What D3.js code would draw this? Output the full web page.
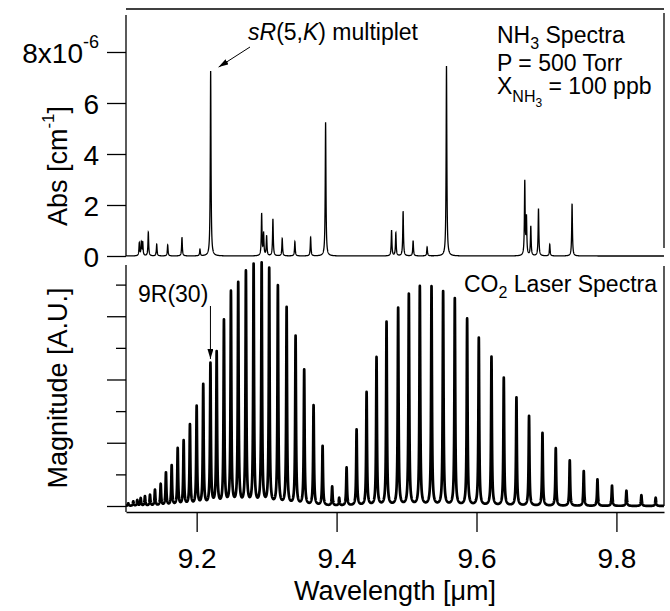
<!DOCTYPE html>
<html>
<head>
<meta charset="utf-8">
<script src="https://cdn.jsdelivr.net/npm/d3@7"></script>
<style>
body { margin: 0; background: #fff; }
svg text { font-family: "Liberation Sans", Arial, sans-serif; fill: #000; }
</style>
</head>
<body>
<svg id="chart" width="670" height="611"></svg>
<script>
// NH3 absorption lines (wavelength in um, absorption in 1e-6 cm^-1)
const nh3Wavelength = [9.1180, 9.1209, 9.1229, 9.1309, 9.1429, 9.1586, 9.1790, 9.2047, 9.2200,
    9.2929, 9.2957, 9.3000, 9.3090, 9.3223, 9.3404, 9.3629, 9.3843,
    9.4786, 9.4847, 9.4951, 9.5094, 9.5294, 9.5571,
    9.6690, 9.6714, 9.6776, 9.6886, 9.7047, 9.7366];
const nh3Abs = [0.50, 0.51, 0.51, 0.93, 0.46, 0.43, 0.73, 0.26, 7.25,
    1.64, 0.85, 0.78, 1.45, 0.68, 0.56, 0.73, 5.24,
    1.00, 0.90, 1.75, 0.60, 0.35, 7.45,
    2.90, 1.45, 1.15, 1.85, 0.45, 2.05];

// CO2 laser lines (wavelength in um, magnitude in arbitrary units)
const co2Wavelength = [9.1023, 9.1094, 9.1151, 9.1200, 9.1261, 9.1333, 9.1404, 9.1486, 9.1561,
    9.1643, 9.1729, 9.1814, 9.1904, 9.2000, 9.2094, 9.2197, 9.2286, 9.2390, 9.2490,
    9.2594, 9.2704, 9.2814, 9.2929, 9.3037, 9.3161, 9.3286, 9.3414, 9.3537, 9.3671,
    9.3800, 9.3937, 9.4037, 9.4143, 9.4286, 9.4429, 9.4571, 9.4714, 9.4880, 9.5033,
    9.5190, 9.5357, 9.5523, 9.5690, 9.5866, 9.6033, 9.6214, 9.6390, 9.6571, 9.6751,
    9.6943, 9.7133, 9.7333, 9.7533, 9.7729, 9.7937, 9.8143, 9.8357, 9.8561];
const co2Magnitude = [0.04, 0.07, 0.09, 0.12, 0.15, 0.17, 0.25, 0.34, 0.52,
    0.63, 0.90, 1.02, 1.27, 1.56, 1.90, 2.23, 2.41, 2.91, 3.36,
    3.50, 3.68, 3.79, 3.81, 3.73, 3.46, 3.12, 2.67, 2.14, 1.58,
    0.94, 0.30, 0.12, 0.60, 1.20, 1.79, 2.34, 2.90, 3.12, 3.34,
    3.46, 3.46, 3.38, 3.27, 2.95, 2.65, 2.35, 2.02, 1.71, 1.42,
    1.15, 0.91, 0.72, 0.55, 0.42, 0.32, 0.24, 0.17, 0.13];

const xTicks = [9.2, 9.4, 9.6, 9.8];
const absTicks = [0, 2, 4, 6, 8];
const magMajorTicks = [0, 1, 2, 3];
const magMinorTicks = [0.5, 1.5, 2.5, 3.5];

const svg = d3.select("#chart");
const font = "Liberation Sans, Arial, sans-serif";

let x = d3.scaleLinear().domain([9.099, 9.868]).range([126, 664]);
let yAbs = d3.scaleLinear().domain([0, 9.686]).range([256, 9]);
let yMag = d3.scaleLinear().domain([0, 3.81]).range([506, 265]);

// sum of narrow line profiles around each listed line
function spectrum(centers, heights, gamma) {
    let grid = d3.range(x.domain()[0], x.domain()[1], 0.00012).concat(centers);
    grid.sort((a, b) => a - b);
    return grid.map(w => ({
        w: w,
        v: d3.sum(centers, (c, i) => heights[i] * gamma * gamma / ((w - c) * (w - c) + gamma * gamma))
    }));
}

// arrow marker
svg.append("defs").append("marker")
    .attr("id", "arrow")
    .attr("viewBox", "0 0 10 6")
    .attr("refX", 10).attr("refY", 3)
    .attr("markerWidth", 10).attr("markerHeight", 6)
    .attr("markerUnits", "userSpaceOnUse")
    .attr("orient", "auto")
    .append("path").attr("d", "M0,0L10,3L0,6Z").attr("fill", "#000");

// ---- top panel: NH3 ----
let topLine = d3.line().x(d => x(d.w)).y(d => yAbs(d.v));
svg.append("path")
    .datum(spectrum(nh3Wavelength, nh3Abs, 0.0006))
    .attr("d", topLine)
    .attr("fill", "none").attr("stroke", "#000").attr("stroke-width", 1.3);

let absAxis = svg.append("g")
    .attr("transform", "translate(126,0)")
    .call(d3.axisLeft(yAbs).tickValues(absTicks).tickSize(19).tickSizeOuter(0).tickFormat(d => d == 8 ? "" : d));
absAxis.select(".domain").remove();
absAxis.selectAll("line").attr("stroke-width", 1.3);
absAxis.selectAll("text").attr("font-size", 28).attr("font-family", font).attr("x", -27).attr("dy", "0.36em");
let top8 = absAxis.select(".tick:last-of-type text");
top8.append("tspan").text("8x10");
top8.append("tspan").text("-6").attr("font-size", 18).attr("dy", "-0.8em");

// frame lines of top panel
svg.append("line").attr("x1", 126).attr("x2", 664).attr("y1", yAbs.range()[1]).attr("y2", yAbs.range()[1])
    .attr("stroke", "#000").attr("stroke-width", 1.5);
svg.append("line").attr("x1", 126).attr("x2", 126).attr("y1", 15).attr("y2", 256)
    .attr("stroke", "#000").attr("stroke-width", 1.3);
svg.append("line").attr("x1", 664).attr("x2", 664).attr("y1", 13).attr("y2", 248)
    .attr("stroke", "#000").attr("stroke-width", 1.3);

// ---- bottom panel: CO2 laser ----
let botLine = d3.line().x(d => x(d.w)).y(d => yMag(d.v));
svg.append("path")
    .datum(spectrum(co2Wavelength, co2Magnitude, 0.0007))
    .attr("d", botLine)
    .attr("fill", "none").attr("stroke", "#000").attr("stroke-width", 2.7)
    .attr("stroke-linejoin", "round");

let magMajor = svg.append("g").attr("transform", "translate(126,0)")
    .call(d3.axisLeft(yMag).tickValues(magMajorTicks).tickSize(19).tickSizeOuter(0).tickFormat(""));
let magMinor = svg.append("g").attr("transform", "translate(126,0)")
    .call(d3.axisLeft(yMag).tickValues(magMinorTicks).tickSize(10).tickSizeOuter(0).tickFormat(""));
magMajor.select(".domain").remove();
magMinor.select(".domain").remove();
svg.selectAll(".tick line").attr("stroke-width", 1.3);

svg.append("line").attr("x1", 126).attr("x2", 126).attr("y1", 265).attr("y2", 512)
    .attr("stroke", "#000").attr("stroke-width", 1.3);
svg.append("line").attr("x1", 664).attr("x2", 664).attr("y1", 266).attr("y2", 506)
    .attr("stroke", "#000").attr("stroke-width", 1.3);

let xAxis = svg.append("g")
    .attr("transform", "translate(0,512)")
    .call(d3.axisBottom(x).tickValues(xTicks).tickSize(20).tickSizeOuter(0).tickFormat(d3.format(".1f")));
xAxis.select(".domain").attr("stroke-width", 1.5);
xAxis.selectAll("line").attr("stroke-width", 1.3);
xAxis.selectAll("text").attr("font-size", 28).attr("font-family", font).attr("y", 56).attr("dy", 0);

// ---- axis titles ----
svg.append("text")
    .attr("x", 395).attr("y", 600)
    .attr("text-anchor", "middle").attr("font-size", 27)
    .text("Wavelength [\u03bcm]");

let absTitle = svg.append("text")
    .attr("transform", "translate(67,166) rotate(-90)")
    .attr("text-anchor", "middle").attr("font-size", 27);
absTitle.append("tspan").text("Abs [cm");
absTitle.append("tspan").text("-1").attr("font-size", 17).attr("dy", "-0.75em");
absTitle.append("tspan").text("]").attr("dy", "0.48em");

svg.append("text")
    .attr("transform", "translate(67,388) rotate(-90)")
    .attr("text-anchor", "middle").attr("font-size", 27)
    .text("Magnitude [A.U.]");

// ---- annotations ----
let sr = svg.append("text").attr("x", 248).attr("y", 40).attr("font-size", 23);
sr.append("tspan").text("sR").attr("font-style", "italic");
sr.append("tspan").text("(5,");
sr.append("tspan").text("K").attr("font-style", "italic");
sr.append("tspan").text(") multiplet");
svg.append("line")
    .attr("x1", 250).attr("y1", 47)
    .attr("x2", x(nh3Wavelength[8]) + 8).attr("y2", yAbs(nh3Abs[8]) - 4)
    .attr("stroke", "#000").attr("stroke-width", 1).attr("marker-end", "url(#arrow)");

let info = svg.append("g").attr("font-size", 23);
let l1 = info.append("text").attr("x", 497).attr("y", 43);
l1.append("tspan").text("NH");
l1.append("tspan").text("3").attr("font-size", 16).attr("dy", 6);
l1.append("tspan").text(" Spectra").attr("dy", -6);
info.append("text").attr("x", 497).attr("y", 71).text("P = 500 Torr");
let l3 = info.append("text").attr("x", 497).attr("y", 94);
l3.append("tspan").text("X");
l3.append("tspan").text("NH").attr("font-size", 16).attr("dy", 8);
l3.append("tspan").text("3").attr("font-size", 12).attr("dy", 5);
l3.append("tspan").text(" = 100 ppb").attr("dy", -13);

let co2 = svg.append("text").attr("x", 657).attr("y", 292).attr("text-anchor", "end").attr("font-size", 23);
co2.append("tspan").text("CO");
co2.append("tspan").text("2").attr("font-size", 16).attr("dy", 6);
co2.append("tspan").text(" Laser Spectra").attr("dy", -6);

svg.append("text").attr("x", 138).attr("y", 302).attr("font-size", 23).text("9R(30)");
svg.append("line")
    .attr("x1", x(co2Wavelength[15])).attr("y1", 306)
    .attr("x2", x(co2Wavelength[15])).attr("y2", yMag(co2Magnitude[15]) - 6)
    .attr("stroke", "#000").attr("stroke-width", 1).attr("marker-end", "url(#arrow)");
</script>
</body>
</html>
